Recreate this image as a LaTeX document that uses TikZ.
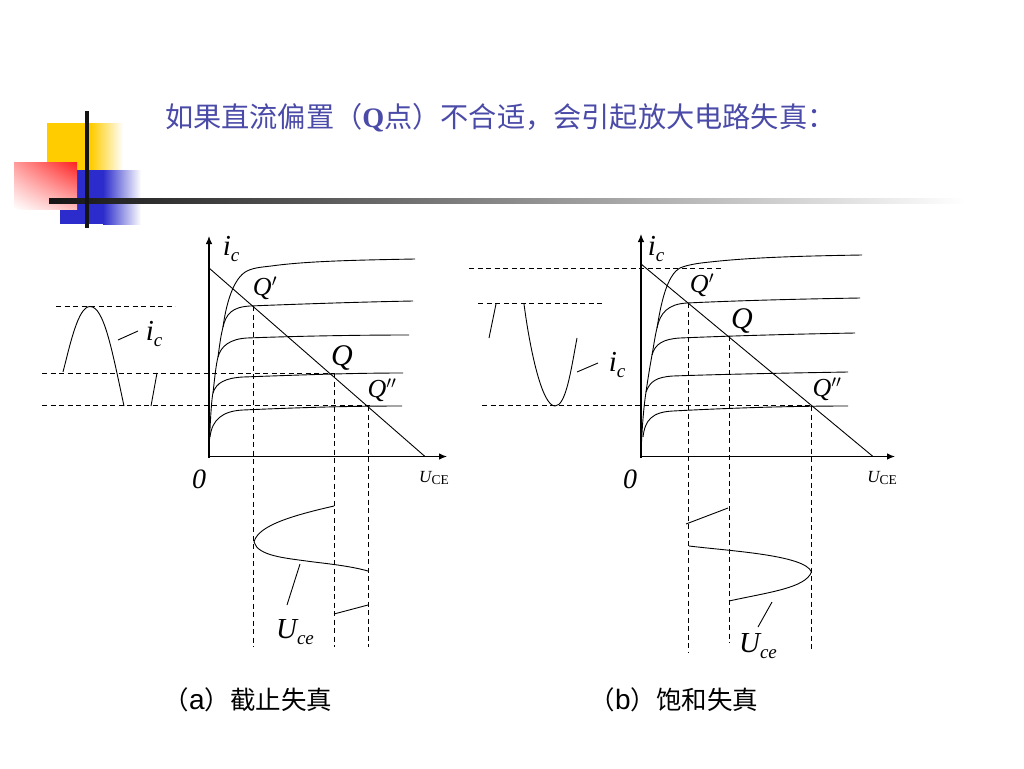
\documentclass[tikz,border=0pt]{standalone}
\usepackage{fontspec}
\usetikzlibrary{arrows.meta,shadings}
\newfontfamily\cjk{Noto Sans CJK SC}
\newfontfamily\tms{Liberation Serif}
\newfontfamily\arl{Liberation Sans}
\definecolor{titleblue}{HTML}{4A4AA8}
\definecolor{logoyellow}{HTML}{FFCC00}
\definecolor{logoblue}{HTML}{2C2CCC}
\definecolor{logored}{HTML}{FF2020}
\newcommand{\curlab}[2]{{\tms\itshape\fontsize{#2}{#2}\selectfont #1}}
\newcommand{\lab}[2]{{\tms\itshape\fontsize{29}{29}\selectfont #1\raisebox{-6pt}{\fontsize{19}{19}\selectfont #2}}}
\newcommand{\uce}{{\tms\fontsize{17}{17}\selectfont\itshape U\raisebox{-2pt}{\upshape\fontsize{13.5}{13.5}\selectfont CE}}}
\tikzset{
  x=1pt,y=-1pt,
  curve/.style={line width=0.9pt,black,line join=round},
  axisline/.style={line width=1.1pt,black,-{Latex[length=8pt,width=6.5pt]}},
  guide/.style={line width=0.9pt,black,dash pattern=on 5pt off 3.5pt},
  tag/.style={inner sep=0pt,outer sep=0pt,text=black},
}
\begin{document}
\begin{tikzpicture}
\useasboundingbox (0,0) rectangle (1024,768);
\fill[white] (0,0) rectangle (1024,768);
% logo
\fill[logoyellow] (47,123) rectangle (91,170);
\shade[left color=logoyellow,right color=white] (91,123) rectangle (123,170);
\fill[logoblue] (60,170) rectangle (103,224);
\shade[left color=logoblue,right color=white] (103,170) rectangle (141,224);
\shade[upper right=logored,upper left=logored!45,lower right=logored!30,lower left=white] (14,162) rectangle (77,209);
\shade[left color=black!92,middle color=black!38,right color=white] (49,198.5) rectangle (965,203.5);
\fill[black!92] (85.3,111) rectangle (88.7,228);
% title
\node[tag,anchor=base west,text=titleblue,font=\fontsize{28.2}{29}\selectfont] (title) at (165,127)
  {\cjk 如果直流偏置（{\tms\bfseries Q}点）不合适，会引起放大电路失真：};

% ------- panel a -------
\coordinate (aO) at (209,456.5);
\coordinate (aYtop) at (209,236);
\coordinate (aXend) at (447,456.5);
\coordinate (aLa) at (209,268);
\coordinate (aLb) at (425,456.5);
\draw[axisline] (209,458) -- (aYtop);
\draw[axisline] (aO) -- (aXend);
\draw[curve] (aLa) -- (aLb);
\draw[curve] (209,455) .. controls (210,420) and (212,395) .. (213,393) .. controls (215,375) and (216,365) .. (218,357) .. controls (220,342) and (221,335) .. (223,327) .. controls (226,305) and (233,278) .. (247,271) .. controls (255,267) and (265,267) .. (275,265.5) .. controls (310,261) and (360,260) .. (415,259);
\draw[curve] (223,327) .. controls (226,314) and (232,307) .. (250,306) .. controls (300,304) and (360,302) .. (413,301);
\draw[curve] (218,357) .. controls (221,346) and (230,339) .. (247,338) .. controls (300,336) and (360,335) .. (409,335);
\draw[curve] (213,393) .. controls (216,383) and (225,378) .. (243,377) .. controls (300,375) and (350,373) .. (403,373);
\draw[curve] (210,437) .. controls (212,420) and (222,411) .. (243,410) .. controls (300,407.5) and (350,406) .. (402,406);
\draw[guide] (56,306.5) -- (175,306.5);
\draw[guide] (42,373) -- (335,373);
\draw[guide] (42,405.5) -- (370,405.5);
\draw[guide] (253,306) -- (253,647);
\draw[guide] (334.5,373) -- (334.5,647);
\draw[guide] (368.5,406) -- (368.5,647);
\draw[curve] (63,372) .. controls (70,345) and (78,306.5) .. (90,306.5) .. controls (104,306.5) and (112,350) .. (124,406);
\draw[curve] (157,373) -- (151,406);
\draw[curve] (118,340) -- (138,331);
\node[tag] (aic) at (154,334) {\lab{i}{c}};
\node[tag] (aict) at (231,249) {\lab{i}{c}};
\node[tag] (aQ1) at (265,288) {\curlab{Q$'$}{26}};
\node[tag] (aQ) at (342,358) {\curlab{Q}{30}};
\node[tag] (aQ2) at (382,390) {\curlab{Q$''$}{26}};
\node[tag] (a0) at (199,479) {\curlab{0}{28}};
\node[tag] (aU) at (434,478) {\uce};
\draw[curve] (334,506) .. controls (295,515) and (258,525) .. (254,542) .. controls (258,556) and (285,558) .. (310,561.5) .. controls (330,564) and (350,566) .. (368,571);
\draw[curve] (334,614) -- (368,605);
\draw[curve] (300,564) -- (287,605);
\node[tag] (aUce) at (295,632) {\lab{U}{ce}};
\node[tag,font=\fontsize{25.5}{26}\selectfont] (capa) at (248,700) {\cjk （{\arl\fontsize{28}{28}\selectfont a}）截止失真};

% ------- panel b -------
\coordinate (bO) at (641,456.5);
\coordinate (bYtop) at (641,234);
\coordinate (bXend) at (895,456.5);
\coordinate (bLa) at (641,264);
\coordinate (bLb) at (873,456.5);
\draw[axisline] (641,458) -- (bYtop);
\draw[axisline] (bO) -- (bXend);
\draw[curve] (bLa) -- (bLb);
\draw[curve] (641,455) .. controls (642,425) and (644,405) .. (646,392) .. controls (648,378) and (650,366) .. (652,355) .. controls (654,344) and (655,336) .. (657,328) .. controls (661,303) and (667,275) .. (680,268) .. controls (688,264.5) and (700,263) .. (710,262) .. controls (750,257.5) and (800,256) .. (862,255);
\draw[curve] (657,328) .. controls (660,313) and (668,304) .. (687,303) .. controls (740,300.5) and (800,299) .. (860,298);
\draw[curve] (652,355) .. controls (655,344) and (663,339) .. (680,338) .. controls (740,335.5) and (800,334) .. (855,333);
\draw[curve] (646,392) .. controls (650,381) and (657,377) .. (673,376) .. controls (730,374) and (790,373) .. (848,372);
\draw[curve] (643,437) .. controls (645,420) and (652,412) .. (673,411) .. controls (730,408) and (790,406) .. (848,406);
\draw[guide] (469,268) -- (723,268);
\draw[guide] (478,303.5) -- (605,303.5);
\draw[guide] (482,405.5) -- (812,405.5);
\draw[guide] (688,303) -- (688,652);
\draw[guide] (729,336) -- (729,643);
\draw[guide] (811.5,406) -- (811.5,652);
\draw[curve] (524,304) .. controls (530,350) and (542,406) .. (555,406) .. controls (566,406) and (571,370) .. (577,338);
\draw[curve] (496,304) -- (489,338);
\draw[curve] (577,372) -- (598,363);
\node[tag] (bic) at (617,365) {\lab{i}{c}};
\node[tag] (bict) at (656,249) {\lab{i}{c}};
\node[tag] (bQ1) at (702,285) {\curlab{Q$'$}{26}};
\node[tag] (bQ) at (742,321) {\curlab{Q}{30}};
\node[tag] (bQ2) at (827,389) {\curlab{Q$''$}{26}};
\node[tag] (b0) at (630,479) {\curlab{0}{28}};
\node[tag] (bU) at (882,478) {\uce};
\draw[curve] (686,524) -- (728,508);
\draw[curve] (689,546) .. controls (730,551) and (805,555) .. (811.5,572) .. controls (805,588) and (770,592) .. (729,601);
\draw[curve] (772,602) -- (758,627);
\node[tag] (bUce) at (758,646) {\lab{U}{ce}};
\node[tag,font=\fontsize{25.5}{26}\selectfont] (capb) at (674,700) {\cjk （{\arl\fontsize{28}{28}\selectfont b}）饱和失真};
\end{tikzpicture}
\end{document}
